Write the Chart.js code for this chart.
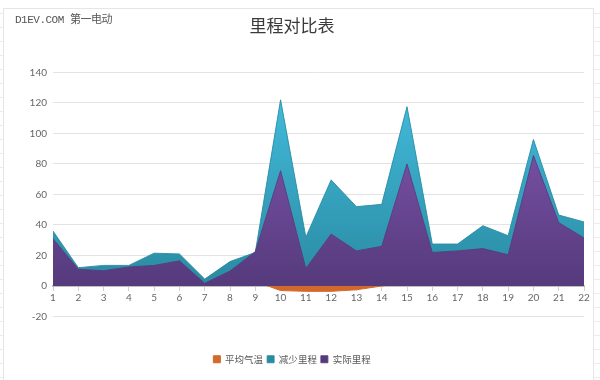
<!DOCTYPE html>
<html>
<head>
<meta charset="utf-8">
<script src="https://cdn.jsdelivr.net/npm/chart.js@4/dist/chart.umd.min.js"></script>
<style>
  html, body { margin: 0; padding: 0; width: 600px; height: 380px; overflow: hidden; background: #ffffff; }
  #sheet { position: absolute; left: 0; top: 0; width: 600px; height: 380px;
    background-image: repeating-linear-gradient(to bottom, transparent 0, transparent 13px, #ececec 13px, #ececec 14px);
  }
  #panel { position: absolute; left: 3px; top: 8px; width: 589px; height: 372px; background: #ffffff;
    border-left: 1px solid #e6e6e6; border-top: 1px solid #e6e6e6; border-right: 1px solid #e6e6e6; }
  #wrap { position: absolute; left: 0; top: 0; width: 600px; height: 380px; }
  #mark { position: absolute; left: 15px; top: 10px; font: 11px "Liberation Mono", "Noto Sans CJK SC", monospace; color: #555; letter-spacing: -0.5px; }
</style>
</head>
<body>
<div id="sheet"></div>
<div id="panel"></div>
<div id="wrap"><canvas id="c" width="600" height="380"></canvas></div>
<div id="mark">D1EV.COM 第一电动</div>
<script>
const categories = ['1','2','3','4','5','6','7','8','9','10','11','12','13','14','15','16','17','18','19','20','21','22'];
const avgTemp    = [3, 2, 1, 2, 3, 2, 1, 2, 3, -3, -3.5, -3.5, -2.5, 0, 2, 3, 3, 4, 3, 5, 4, 3];
const reduced    = [36, 12, 13.5, 13.5, 21.5, 21, 4.5, 16, 22, 122, 32, 69.5, 52, 53.5, 117.5, 27.5, 27.5, 39.5, 33, 96, 46.5, 42];
const actual     = [31, 11, 10, 12.5, 13.5, 16.5, 1.8, 9.8, 22.5, 75.5, 11.5, 34, 23, 26, 80, 22, 23, 24.5, 20.5, 85.5, 41.5, 31.5];
const seriesNames = ['平均气温', '减少里程', '实际里程'];

function grad(top, bottom) {
  return (ctx) => {
    const chart = ctx.chart;
    const area = chart.chartArea;
    if (!area) return bottom;
    const y = chart.scales.y;
    const g = chart.ctx.createLinearGradient(0, y.getPixelForValue(125), 0, y.getPixelForValue(0));
    g.addColorStop(0, top);
    g.addColorStop(1, bottom);
    return g;
  };
}

new Chart(document.getElementById('c'), {
  type: 'line',
  data: {
    labels: categories,
    datasets: [
      { label: seriesNames[2], data: actual, fill: 'origin', backgroundColor: grad('#8558b3', '#553a7c'), borderColor: 'rgba(90,60,125,0.9)', borderWidth: 1, pointRadius: 0, tension: 0 },
      { label: seriesNames[1], data: reduced, fill: 'origin', backgroundColor: grad('#42bbdb', '#2a8aa2'), borderColor: 'rgba(40,140,165,0.9)', borderWidth: 1, pointRadius: 0, tension: 0 },
      { label: seriesNames[0], data: avgTemp, fill: 'origin', backgroundColor: '#d2692a', borderColor: '#d2692a', borderWidth: 1, pointRadius: 0, tension: 0 }
    ]
  },
  options: {
    responsive: false,
    animation: false,
    devicePixelRatio: 1,
    layout: { padding: { left: 0, right: 16, top: 0, bottom: 6 } },
    plugins: {
      title: {
        display: true,
        text: '里程对比表',
        color: '#3a3a3a',
        font: { family: '"Noto Sans CJK SC", sans-serif', size: 17, weight: 'normal' },
        padding: { top: 15, bottom: 37 }
      },
      legend: {
        position: 'bottom',
        reverse: true,
        labels: {
          color: '#595959',
          font: { family: '"Noto Sans CJK SC", sans-serif', size: 9.5 },
          boxWidth: 7, boxHeight: 7, padding: 4,
          useBorderRadius: false
        },
        onClick: null
      },
      tooltip: { enabled: false }
    },
    scales: {
      x: {
        type: 'category',
        offset: false,
        position: { y: 0 },
        grid: { display: true, drawOnChartArea: false, drawTicks: true, tickLength: 4, color: '#d0d0d0' },
        border: { display: true, color: '#bfbfbf', width: 2 },
        ticks: { color: '#666666', font: { family: 'Lato, "Open Sans", sans-serif', size: 10 }, padding: 2, maxRotation: 0, autoSkip: false }
      },
      gap: {
        type: 'category',
        position: 'bottom',
        afterFit: (s) => { s.height = 34; },
        grid: { display: false },
        border: { display: false },
        ticks: { display: false }
      },
      y: {
        min: -20, max: 140,
        afterFit: (s) => { s.width = 53; },
        grid: { color: '#e3e3e3', lineWidth: 1, drawTicks: false },
        border: { display: false },
        ticks: { stepSize: 20, color: '#666666', padding: 6, font: { family: 'Lato, "Open Sans", sans-serif', size: 10 } }
      }
    }
  }
});
</script>
</body>
</html>
